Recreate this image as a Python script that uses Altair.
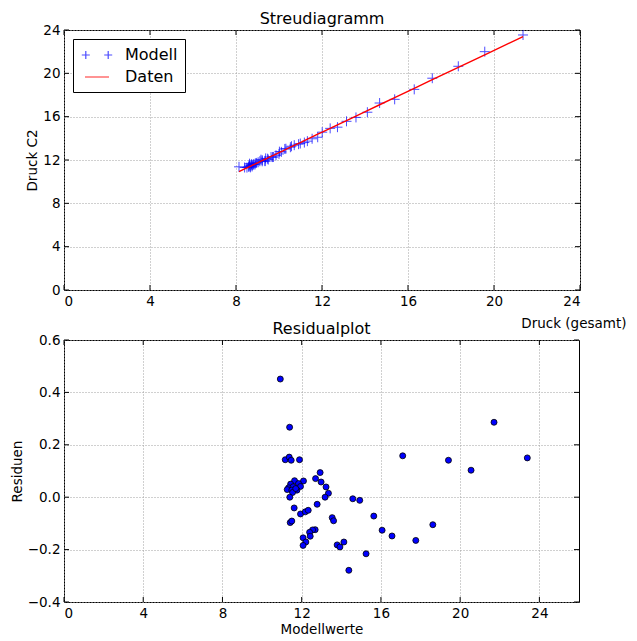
import altair as alt
import pandas as pd

# ---------------- data ----------------
druck_gesamt = [8.14, 8.63, 8.40, 8.61, 8.72, 9.16, 10.27, 10.02, 10.32, 10.58, 10.71, 10.53,
                8.90, 9.38, 9.11, 8.69, 8.58, 8.82, 9.22, 8.51, 8.75, 9.03, 8.79, 8.96, 8.64,
                8.88, 10.11, 9.22, 9.47, 9.63, 8.67, 8.75, 10.91, 10.99, 10.00, 9.86, 9.70, 9.74,
                9.35, 9.50, 9.35, 11.54, 11.18, 11.32,
                12.01, 12.38, 13.14, 13.58, 14.11, 15.38, 12.72, 11.80,
                14.68, 17.13, 21.35, 18.34, 19.57, 16.29]

druck_c2 = [11.37, 11.66, 11.31, 11.52, 11.61, 12.03, 13.02, 12.77, 13.04, 13.27, 13.37, 13.18,
            11.70, 12.15, 11.89, 11.49, 11.38, 11.61, 11.98, 11.30, 11.53, 11.79, 11.56, 11.73, 11.40,
            11.58, 12.75, 11.88, 12.12, 12.28, 11.32, 11.41, 13.46, 13.52, 12.56, 12.43, 12.27, 12.28,
            11.92, 12.04, 11.89, 13.96, 13.61, 13.74,
            14.57, 14.92, 15.57, 15.93, 16.41, 17.60, 15.03, 14.10,
            17.26, 19.55, 23.54, 20.65, 22.00, 18.52]

modellwerte = [10.92, 11.39, 11.17, 11.37, 11.47, 11.89, 12.93, 12.70, 12.98, 13.23, 13.35, 13.18,
               11.64, 12.09, 11.84, 11.44, 11.34, 11.57, 11.94, 11.27, 11.50, 11.76, 11.54, 11.70, 11.40,
               11.62, 12.78, 11.94, 12.18, 12.33, 11.42, 11.50, 13.54, 13.61, 12.68, 12.55, 12.40, 12.43,
               12.07, 12.21, 12.07, 14.13, 13.79, 13.93,
               14.58, 14.93, 15.64, 16.06, 16.56, 17.76, 15.25, 14.38,
               17.10, 19.41, 23.39, 20.55, 21.71, 18.62]

residuen = [0.451, 0.267, 0.143, 0.153, 0.141, 0.143, 0.094, 0.071, 0.058, 0.039, 0.015, 0.000,
            0.063, 0.062, 0.052, 0.050, 0.036, 0.040, 0.041, 0.029, 0.027, 0.027, 0.018, 0.033, 0.000,
            -0.041, -0.027, -0.064, -0.056, -0.050, -0.097, -0.091, -0.078, -0.090, -0.124, -0.125,
            -0.134, -0.149, -0.155, -0.171, -0.184, -0.171, -0.182, -0.190,
            -0.006, -0.012, -0.072, -0.126, -0.148, -0.165, -0.216, -0.279,
            0.158, 0.141, 0.150, 0.103, 0.286, -0.105]

series_names = ["Modell", "Daten"]
series_colors = ["#0000ff", "#ff0000"]
top_ticks = [0, 4, 8, 12, 16, 20, 24]
res_x_ticks = [0, 4, 8, 12, 16, 20, 24]
res_y_ticks = [-0.4, -0.2, 0.0, 0.2, 0.4, 0.6]

# ---------------- tables ----------------
pts = pd.DataFrame({"x": druck_gesamt, "y": druck_c2, "series": series_names[0]})
line = pd.DataFrame({"x": druck_gesamt, "y": modellwerte, "series": series_names[1]}).sort_values("x")
res = pd.DataFrame({"m": modellwerte, "r": residuen})
legend_df = pd.DataFrame({"x": [0.0, 0.0], "y": [0.0, 0.0], "series": series_names})

FONT = "DejaVu Sans"
W1, H1 = 516, 260
W2, H2 = 515, 262
TL = 5  # inward tick length

cross = "M-1,0L1,0M0,-1L0,1"
legend_shapes = ["M-1.9,0L-0.9,0M-1.4,-0.5L-1.4,0.5M0.9,0L1.9,0M1.4,-0.5L1.4,0.5",
                 "M-1.5,0L1.5,0"]

xs1 = alt.Scale(domain=[0, 24], nice=False, zero=False)
ys1 = alt.Scale(domain=[0, 24], nice=False, zero=False)
xs2 = alt.Scale(domain=[0, 26], nice=False, zero=False)
ys2 = alt.Scale(domain=[-0.4, 0.6], nice=False, zero=False)

color_scale = alt.Scale(domain=series_names, range=series_colors)

ax_x1 = alt.Axis(values=top_ticks, title="Druck (gesamt)", titleX=562, titleY=33,
                 titleAlign="right", titleBaseline="middle")
ax_y1 = alt.Axis(values=top_ticks, title="Druck C2", titlePadding=3)
ax_x2 = alt.Axis(values=res_x_ticks, title="Modellwerte", titlePadding=3)
ax_y2 = alt.Axis(values=res_y_ticks, format=".1f", title="Residuen", titlePadding=3)

x1 = alt.X("x:Q", scale=xs1, axis=ax_x1)
y1 = alt.Y("y:Q", scale=ys1, axis=ax_y1)

leg = alt.Legend(title=None, orient="top-left", offset=9, padding=7, strokeColor="black",
                 fillColor="white", cornerRadius=0, labelFontSize=16, labelFont=FONT,
                 labelColor="black", symbolSize=256, symbolStrokeWidth=1.2, symbolOffset=8,
                 labelOffset=19, rowPadding=5)

color_enc = alt.Color("series:N", scale=color_scale, legend=leg)

points_layer = alt.Chart(pts).mark_point(shape=cross, filled=False, size=100, strokeWidth=1).encode(
    x=x1, y=y1, color=color_enc)
line_layer = alt.Chart(line).mark_line(strokeWidth=1.4).encode(
    x=x1, y=y1, color=color_enc)
legend_layer = alt.Chart(legend_df).transform_filter("false").mark_point(filled=False).encode(
    x=x1, y=y1, color=color_enc,
    shape=alt.Shape("series:N", scale=alt.Scale(domain=series_names, range=legend_shapes), legend=leg))


def inward_ticks(xvals, yvals, xscale, yscale, xaxis, yaxis, w, h):
    dx = pd.DataFrame({"v": xvals})
    dy = pd.DataFrame({"v": yvals})
    xe = alt.X("v:Q", scale=xscale, axis=xaxis)
    ye = alt.Y("v:Q", scale=yscale, axis=yaxis)
    base_x = alt.Chart(dx).mark_rule(color="black", strokeWidth=1)
    base_y = alt.Chart(dy).mark_rule(color="black", strokeWidth=1)
    return [
        base_x.encode(x=xe, y=alt.value(h), y2=alt.value(h - TL)),
        base_x.encode(x=xe, y=alt.value(0), y2=alt.value(TL)),
        base_y.encode(y=ye, x=alt.value(0), x2=alt.value(TL)),
        base_y.encode(y=ye, x=alt.value(w), x2=alt.value(w - TL)),
    ]


top = alt.layer(
    points_layer, line_layer, legend_layer,
    *inward_ticks(top_ticks, top_ticks, xs1, ys1, ax_x1, ax_y1, W1, H1)
).properties(
    width=W1, height=H1,
    title=alt.TitleParams("Streudiagramm", offset=-4, frame="group"),
)

x2 = alt.X("m:Q", scale=xs2, axis=ax_x2)
y2 = alt.Y("r:Q", scale=ys2, axis=ax_y2)
scatter = alt.Chart(res).mark_point(filled=True, fill="#0000ff", stroke="black", strokeWidth=0.8,
                                    size=36, opacity=1).encode(x=x2, y=y2)

bottom = alt.layer(
    scatter, *inward_ticks(res_x_ticks, res_y_ticks, xs2, ys2, ax_x2, ax_y2, W2, H2)
).properties(
    width=W2, height=H2,
    title=alt.TitleParams("Residualplot", offset=-4, frame="group"),
)

chart = alt.vconcat(top, bottom, spacing=50, bounds="flush").properties(
    padding={"left": 1, "top": 2, "right": 0, "bottom": 0}
).configure_view(stroke="black", strokeWidth=1).configure_axis(
    labelFont=FONT, titleFont=FONT, labelFontSize=13.5, titleFontSize=13.5,
    titleFontWeight="normal", labelColor="black", titleColor="black",
    tickSize=0, domain=False, gridColor="#a0a0a0", gridDash=[1, 2], gridWidth=1,
    gridOpacity=1, labelPadding=4,
).configure_title(font=FONT, fontSize=16, fontWeight="normal", color="black")

chart.save("out.html", embed_options={"renderer": "svg", "actions": False})
